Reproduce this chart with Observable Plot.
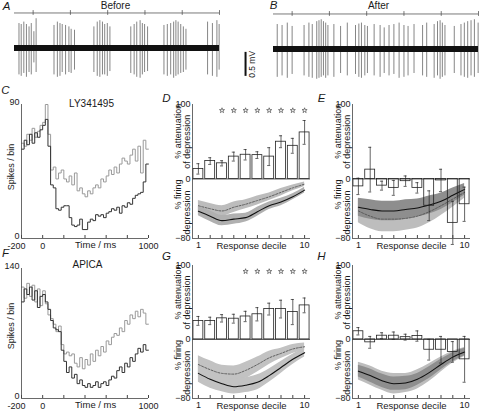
<!DOCTYPE html>
<html>
<head>
<meta charset="utf-8">
<script src="https://cdn.jsdelivr.net/npm/d3@7"></script>
<script src="https://cdn.jsdelivr.net/npm/@observablehq/plot@0.6"></script>
<style>
html, body { margin: 0; padding: 0; background: #fff; }
#fig { position: relative; width: 480px; height: 412px; overflow: hidden; background: #fff; }
</style>
</head>
<body>
<div id="fig"></div>
<script>
// ------------------------------------------------------------------ DATA
// Extracellular traces (time in s, amplitudes in mV)
const traceTicks = [0.5, 1.5, 2.5, 3.5, 4.5, 5.5];
const traceSpan = [0, 5.5];
const spikeTimesA = [0.12,0.18,0.25,0.32,0.39,0.45,0.52,0.58, 1.06,1.15,1.22,1.28,1.37,1.46,1.52,1.61, 2.13,2.22,2.29,2.36,2.42,2.49,2.56, 3.12,3.21,3.28,3.37,3.43,3.49,3.57, 4.01,4.10,4.19,4.27,4.33,4.39,4.46,4.53,4.60, 5.18,5.31,5.43,5.49];
const spikeTopsA = [0.52,0.5,0.55,0.5,0.45,0.52,0.35,0.62, 0.48,0.55,0.52,0.5,0.48,0.45,0.4,0.38, 0.45,0.55,0.58,0.55,0.5,0.52,0.45, 0.45,0.5,0.55,0.58,0.52,0.5,0.45, 0.48,0.5,0.52,0.55,0.58,0.55,0.5,0.45,0.4, 0.55,0.52,0.58,0.5];
const spikeBottomsA = [-0.55,-0.58,-0.52,-0.6,-0.5,-0.55,-0.3,-0.5, -0.55,-0.6,-0.58,-0.5,-0.55,-0.5,-0.52,-0.45, -0.5,-0.58,-0.6,-0.55,-0.55,-0.58,-0.48, -0.52,-0.55,-0.6,-0.62,-0.55,-0.5,-0.48, -0.55,-0.58,-0.55,-0.62,-0.58,-0.55,-0.52,-0.5,-0.45, -0.55,-0.58,-0.6,-0.45];
const spikeTimesB = [0.10,0.23,0.37,0.50,0.82,0.95,1.04,1.16,1.22,1.28, 1.34,1.40,1.46,1.62,1.80,1.98,2.20,2.29,2.36,2.45, 2.52,2.70,2.86,2.97,3.10,3.23,3.37,3.50,3.61,3.77, 4.00,4.11,4.31,4.40,4.47,4.53,4.60,4.85,5.03,5.12, 5.21,5.30,5.39,5.49];
const spikeTopsB = [0.52,0.5,0.55,0.48,0.5,0.55,0.52,0.58,0.6,0.62, 0.58,0.55,0.5,0.52,0.48,0.55,0.5,0.53,0.55,0.5, 0.48,0.52,0.5,0.45,0.5,0.52,0.55,0.5,0.48,0.52, 0.5,0.55,0.52,0.58,0.6,0.55,0.5,0.48,0.52,0.55, 0.58,0.6,0.62,0.55];
const spikeBottomsB = [-0.58,-0.55,-0.6,-0.52,-0.55,-0.58,-0.6,-0.62,-0.6,-0.58, -0.55,-0.6,-0.55,-0.58,-0.5,-0.55,-0.52,-0.58,-0.6,-0.55, -0.5,-0.55,-0.58,-0.5,-0.55,-0.52,-0.6,-0.58,-0.55,-0.5, -0.55,-0.58,-0.6,-0.55,-0.62,-0.58,-0.55,-0.5,-0.55,-0.58, -0.6,-0.55,-0.58,-0.5];
const noiseTimes = [0, 1, 2, 3, 4, 5, 5.5];
const noiseHalfA = [0.06, 0.065, 0.06, 0.065, 0.06, 0.065, 0.06];
const noiseHalfB = [0.06, 0.06, 0.065, 0.06, 0.06, 0.065, 0.06];
const scaleBarMv = 0.5;

// Peri-stimulus histograms (spikes / bin, 25 ms bins)
const timeBins = [-200,-175,-150,-125,-100,-75,-50,-25,0,25,50,75,100,125,150,175,200,225,250,275,300,325,350,375,400,425,450,475,500,525,550,575,600,625,650,675,700,725,750,775,800,825,850,875,900,925,950,975];
const histEnd = 1000;
const cDark = [60,66,63,70,64,71,68,73, 76,80,62,36,34,20,19,21,22,22,14,9,8,9,13,6,6,11,13,12,16,15,16,14,17,18,20,19,21,17,22,21,24,23,27,29,30,31,38,50];
const cGrey = [64,62,70,66,74,68,72,76, 78,90,70,46,48,40,44,46,40,38,42,36,44,32,34,30,28,32,30,34,36,34,40,38,42,46,43,48,44,50,54,52,50,56,60,52,62,44,66,60];
const fDark = [104,118,112,120,106,116,98,110, 112,104,96,84,76,74,72,52,40,28,34,22,26,16,20,14,12,16,12,14,18,12,16,18,14,20,24,22,30,34,28,38,34,44,40,48,54,50,58,52];
const fGrey = [120,108,124,110,122,104,118,100, 116,102,90,86,80,72,78,58,48,50,46,48,38,34,44,32,42,36,48,40,52,46,56,50,62,58,66,70,68,76,72,84,80,90,86,94,88,96,92,80];
const histTicks = [-200, 0, 200, 400, 600, 800, 1000];
const histLabelled = [0, 1000];
const histStart = [-200];

// Response-decile panels
const deciles = [1,2,3,4,5,6,7,8,9,10];
const decileLabelled = [1, 10];
const decileYTicks = [-80, 0, 100];
const starLevel = 92;

const dAtten = [13.5, 24, 21, 30, 32.5, 32, 30, 50, 44.5, 62.5];
const dAttenErr = [7, 4.5, 3.5, 6, 7, 4.5, 12, 8, 10, 16];
const dStars = [3,4,5,6,7,8,9,10];
const dSolid = [-43.5,-50,-56,-54,-52,-44,-36,-31,-24,-15];
const dSolidSem = [6,7,7,7,6,6,5,5,4,4];
const dDashed = [-36,-40,-43,-38,-34,-29,-24,-18,-12,-7];
const dDashedSem = [7,7,7,7,6,6,5,5,4,3];

const eAtten = [-10, 12.5, -9, -12, -3, -12, -36, -2, -59, -34];
const eAttenErr = [11, 30, 6, 10, 7, 7, 20, 15, 29, 23];
const eSolid = [-38,-41,-43,-43,-41,-39,-35,-30,-22,-14];
const eSolidSem = [12,13,13,13,13,12,12,11,10,8];
const eDashed = [-43,-50,-54,-54,-53,-50,-44,-36,-27,-18];
const eDashedSem = [16,17,17,17,16,16,15,13,11,8];

const gAtten = [25, 25, 28.5, 28, 31, 34, 41, 41, 37, 46];
const gAttenErr = [6, 5, 5, 6, 7, 9, 8, 12, 17, 10];
const gStars = [5,6,7,8,9,10];
const gSolid = [-46,-54,-60,-64,-62,-58,-49,-38,-27,-18];
const gSolidSem = [12,12,11,10,10,10,9,8,7,6];
const gDashed = [-34,-41,-46,-47,-42,-34,-25,-19,-13,-10];
const gDashedSem = [12,12,11,11,11,10,9,7,6,5];

const hAtten = [11, -4, 5, 5, 3, 4.5, -14, -14, -17, -27];
const hAttenErr = [5, 8, 4, 5, 4, 7, 14, 18, 14, 31];
const hSolid = [-43,-49,-56,-60,-59,-54,-45,-34,-24,-17];
const hSolidSem = [8,9,9,9,9,8,8,7,6,5];
const hOuterSem = [12,13,13,14,13,13,12,10,8,6];

// ------------------------------------------------------------------ DRAWING
const FONT = "'Liberation Sans', Arial, Helvetica, sans-serif";
const INK = "#1a1a1a";
const fig = document.getElementById("fig");
const baseStyle = {position: "absolute", left: "0px", top: "0px", background: "transparent",
  overflow: "visible", fontFamily: FONT, color: INK};

function frame(box) {
  return {width: 480, height: 412, marginLeft: box[0], marginRight: 480 - box[1],
    marginTop: box[2], marginBottom: 412 - box[3]};
}
function add(p) { fig.appendChild(p); }

// ---- traces A and B
function tracePanel(box, times, tops, bottoms, noiseHalf, extra) {
  const spikes = times.map((t, i) => ({t, hi: tops[i], lo: bottoms[i]}));
  const noise = noiseTimes.map((t, i) => ({t, lo: -noiseHalf[i], hi: noiseHalf[i]}));
  return Plot.plot({
    ...frame(box),
    style: baseStyle,
    x: {domain: traceSpan, axis: null},
    y: {domain: [-1, 1], axis: null},
    marks: [
      Plot.ruleX(spikes, {x: "t", y1: "lo", y2: "hi", stroke: "#707070", strokeWidth: 0.85}),
      Plot.areaY(noise, {x: "t", y1: "lo", y2: "hi", fill: "#111"}),
      Plot.ruleY([0.74], {x1: traceSpan[0], x2: traceSpan[1], stroke: "#555", strokeWidth: 0.8}),
      Plot.ruleX(traceTicks, {y1: 0.69, y2: 0.79, stroke: "#555", strokeWidth: 0.8}),
      ...(extra || [])
    ]
  });
}
add(tracePanel([14, 219, 0, 96], spikeTimesA, spikeTopsA, spikeBottomsA, noiseHalfA));
add(tracePanel([273, 478, 1, 97], spikeTimesB, spikeTopsB, spikeBottomsB, noiseHalfB, [
  Plot.ruleX([-0.75], {y1: -0.06, y2: -0.06 - scaleBarMv, stroke: "#111", strokeWidth: 2}),
  Plot.text(["0.5 mV"], {x: -0.75, y: -0.06 - scaleBarMv / 2, dx: 7, rotate: -90, fontSize: 8.5, fill: INK})
]));

// ---- histograms C and F
function histPanel(box, ymax, dark, grey, labelY) {
  const toRows = vals => timeBins.map((t, i) => ({t, v: vals[i]})).concat([{t: histEnd, v: vals[vals.length - 1]}]);
  return Plot.plot({
    ...frame(box),
    style: baseStyle,
    x: {domain: [-200, 1000], label: null},
    y: {domain: [0, ymax], label: null},
    marks: [
      Plot.line(toRows(grey), {x: "t", y: "v", curve: "step-after", stroke: "#9a9a9a", strokeWidth: 1}),
      Plot.line(toRows(dark), {x: "t", y: "v", curve: "step-after", stroke: "#333", strokeWidth: 1}),
      Plot.ruleX([-200], {stroke: "#444", strokeWidth: 0.8}),
      Plot.ruleY([0], {stroke: "#444", strokeWidth: 0.8}),
      Plot.axisX({ticks: histTicks, tickFormat: d => histLabelled.includes(d) ? String(d) : "",
        tickSize: -3, tickPadding: 7, fontSize: 9, label: null, stroke: "#444"}),
      Plot.axisX({ticks: histStart, tickFormat: d => String(d), tickSize: 0, tickPadding: 4, dx: -5, fontSize: 9, label: null}),
      Plot.axisY({ticks: [0, ymax], tickSize: 0, tickPadding: 2, dy: -2, fontSize: 9, label: null}),
      Plot.text(["Time / ms"], {x: 500, frameAnchor: "bottom", dy: 6, lineAnchor: "middle", fontSize: 9.5, fill: INK}),
      Plot.text(["Spikes / bin"], {x: -200, y: labelY, dx: -10, rotate: -90, fontSize: 9, fill: INK})
    ]
  });
}
add(histPanel([21, 148, 104, 238], 90, cDark, cGrey, 48));
add(histPanel([21, 148, 268, 398], 140, fDark, fGrey, 78));

// ---- decile panels D, E, G, H
const barHalf = 0.42, capHalf = 0.13;
function decilePanel(box, p) {
  const rows = deciles.map((d, i) => ({d, a: p.atten[i], e: p.err[i]}));
  const marks = [];
  for (const b of p.bands) {
    const br = deciles.map((d, i) => ({d, lo: b.mean[i] - b.sem[i], hi: b.mean[i] + b.sem[i]}));
    marks.push(Plot.areaY(br, {x: "d", y1: "lo", y2: "hi", fill: b.fill, curve: "monotone-x"}));
  }
  for (const l of p.lines) {
    const lr = deciles.map((d, i) => ({d, m: l.mean[i]}));
    marks.push(Plot.line(lr, {x: "d", y: "m", stroke: l.stroke, strokeWidth: l.width,
      strokeDasharray: l.dash, curve: "monotone-x"}));
  }
  marks.push(
    Plot.ruleY([0], {stroke: "#222", strokeWidth: 0.8}),
    Plot.rect(rows, {x1: r => r.d - barHalf, x2: r => r.d + barHalf, y1: 0, y2: "a",
      fill: p.barFill, stroke: "#222", strokeWidth: 0.8}),
    Plot.ruleX(rows, {x: "d", y1: r => r.a - r.e, y2: r => r.a + r.e, stroke: "#222", strokeWidth: 0.7}),
    Plot.ruleY(rows, {y: r => r.a + r.e, x1: r => r.d - capHalf, x2: r => r.d + capHalf, stroke: "#222", strokeWidth: 0.7}),
    Plot.ruleY(rows, {y: r => r.a - r.e, x1: r => r.d - capHalf, x2: r => r.d + capHalf, stroke: "#222", strokeWidth: 0.7}),
    Plot.dot(p.stars || [], {x: d => d, y: starLevel, symbol: "star", r: 1.6, stroke: "#333", fill: "none", strokeWidth: 0.6}),
    Plot.ruleX([0.5], {stroke: "#444", strokeWidth: 0.8}),
    Plot.ruleY([-80], {stroke: "#444", strokeWidth: 0.8}),
    Plot.axisY({ticks: decileYTicks, tickSize: 0, tickPadding: 2, fontSize: 9, label: null}),
    Plot.axisX({ticks: deciles, tickFormat: d => decileLabelled.includes(d) ? String(d) : "",
      tickSize: -3, tickPadding: 6, fontSize: 9, label: null, stroke: "#444"}),
    Plot.text(["Response decile"], {frameAnchor: "bottom", dy: 7, lineAnchor: "middle", fontSize: 9.5, fill: INK}),
    Plot.text(["% attenuation"], {x: 0.5, y: 64, dx: -14, rotate: -90, fontSize: 9, fill: INK}),
    Plot.text(["of depression"], {x: 0.5, y: 50, dx: -5.5, rotate: -90, fontSize: 9, fill: INK}),
    Plot.text(["% firing"], {x: 0.5, y: -21, dx: -14, rotate: -90, fontSize: 9, fill: INK}),
    Plot.text(["depression"], {x: 0.5, y: -45, dx: -5.5, rotate: -90, fontSize: 9, fill: INK})
  );
  return Plot.plot({
    ...frame(box),
    style: baseStyle,
    x: {domain: [0.5, 10.5], label: null},
    y: {domain: [-80, 100], label: null},
    marks
  });
}
const solidLine = mean => ({mean, stroke: "#111", width: 1.1});
const dashedLine = mean => ({mean, stroke: "#555", width: 0.9, dash: "2,1.5"});

add(decilePanel([192, 310, 104, 238], {
  atten: dAtten, err: dAttenErr, stars: dStars, barFill: "white",
  bands: [{mean: dDashed, sem: dDashedSem, fill: "#bcbcbc"}, {mean: dSolid, sem: dSolidSem, fill: "#b0b0b0"}],
  lines: [dashedLine(dDashed), solidLine(dSolid)]
}));
add(decilePanel([352, 470, 104, 238], {
  atten: eAtten, err: eAttenErr, barFill: "none",
  bands: [{mean: eDashed, sem: eDashedSem, fill: "#bdbdbd"}, {mean: eSolid, sem: eSolidSem, fill: "#8e8e8e"}],
  lines: [dashedLine(eDashed), solidLine(eSolid)]
}));
add(decilePanel([192, 310, 265, 398], {
  atten: gAtten, err: gAttenErr, stars: gStars, barFill: "white",
  bands: [{mean: gDashed, sem: gDashedSem, fill: "#c2c2c2"}, {mean: gSolid, sem: gSolidSem, fill: "#c2c2c2"}],
  lines: [dashedLine(gDashed), solidLine(gSolid)]
}));
add(decilePanel([352, 470, 265, 398], {
  atten: hAtten, err: hAttenErr, barFill: "none",
  bands: [{mean: hSolid, sem: hOuterSem, fill: "#bdbdbd"}, {mean: hSolid, sem: hSolidSem, fill: "#8e8e8e"}],
  lines: [solidLine(hSolid)]
}));

// ---- panel letters and titles (layout positions in px)
const panelLetters = [
  {t: "A", x: 6, y: 6}, {t: "B", x: 273, y: 5}, {t: "C", x: 5, y: 90}, {t: "D", x: 166, y: 98},
  {t: "E", x: 321, y: 98}, {t: "F", x: 5, y: 253}, {t: "G", x: 166, y: 256}, {t: "H", x: 321, y: 256}
];
const titles = [
  {t: "Before", x: 115, y: 5}, {t: "After", x: 378, y: 5},
  {t: "LY341495", x: 91, y: 103}, {t: "APICA", x: 87, y: 264}
];
add(Plot.plot({
  width: 480, height: 412, margin: 0,
  style: baseStyle,
  x: {type: "identity", axis: null},
  y: {type: "identity", axis: null},
  marks: [
    Plot.text(panelLetters, {x: "x", y: "y", text: "t", fontSize: 11.5, fontStyle: "italic", lineAnchor: "middle", fill: INK}),
    Plot.text(titles, {x: "x", y: "y", text: "t", fontSize: 10, lineAnchor: "middle", fill: INK})
  ]
}));
</script>
</body>
</html>
